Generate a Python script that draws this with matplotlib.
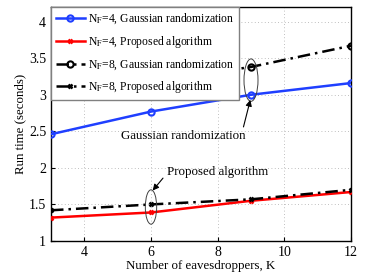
import matplotlib
matplotlib.use("Agg")
import matplotlib.pyplot as plt
from matplotlib.patches import Ellipse

plt.rcParams['font.family'] = ['Liberation Serif', 'DejaVu Serif']
plt.rcParams['mathtext.fontset'] = 'stix'

K = [3, 6, 9, 12]
gauss_nf4 = [2.46, 2.77, 3.00, 3.16]
prop_nf4 = [1.32, 1.39, 1.55, 1.67]
gauss_nf8 = [2.98, 3.18, 3.38, 3.67]
prop_nf8 = [1.42, 1.50, 1.57, 1.70]
labels = [r'N$_\mathrm{F}$=4, Gaussian randomization',
          r'N$_\mathrm{F}$=4, Proposed algorithm',
          r'N$_\mathrm{F}$=8, Gaussian randomization',
          r'N$_\mathrm{F}$=8, Proposed algorithm']
xticks = [4, 6, 8, 10, 12]
yticks = [1, 1.5, 2, 2.5, 3, 3.5, 4]

fig = plt.figure(figsize=(3.88, 2.72), dpi=100)
ax = fig.add_axes([51/388, 1 - 241/272, 300/388, 234/272])

fs = 9.3
dashdot = (0, (5, 2, 1, 2))
ax.plot(K, gauss_nf4, color='#1f3fff', lw=1.8, marker='o', ms=4.5, mfc='none', mew=1.5, label=labels[0], zorder=3)
ax.plot(K, prop_nf4, color='red', lw=1.8, marker='x', ms=3.5, mew=1.8, label=labels[1], zorder=3)
ax.plot(K, gauss_nf8, color='black', lw=1.8, ls=dashdot, marker='o', ms=4.5, mfc='none', mew=1.5, label=labels[2], zorder=3)
ax.plot(K, prop_nf8, color='black', lw=1.8, ls=dashdot, marker='x', ms=3.5, mew=1.8, label=labels[3], zorder=3)

ax.set_xlim(3, 12)
ax.set_ylim(1, 4.2)
ax.set_xticks(xticks)
ax.set_yticks(yticks)
ax.set_yticklabels(['1', '1.5', '2', '2.5', '3', '3.5', '4'])
ax.tick_params(labelsize=10, direction='in', length=3, width=0.8)
ax.grid(True, ls=(0, (1, 3)), color='#aaaaaa', lw=0.6)
for s in ax.spines.values():
    s.set_linewidth(1.0)
ax.set_xlabel('Number of eavesdroppers, K', fontsize=fs, labelpad=1)
ax.set_ylabel('Run time (seconds)', fontsize=fs, labelpad=2)

leg = ax.legend(loc='upper left', fontsize=8.4, frameon=True, fancybox=False,
                edgecolor='#808080', framealpha=1, borderaxespad=0,
                handlelength=2.5, labelspacing=0.65, borderpad=0.4, handletextpad=0.3)
leg.get_frame().set_linewidth(1.0)
leg.set_zorder(5)

ax.add_patch(Ellipse((9, 3.2), 0.42, 0.58, fill=False, ec='#404040', lw=0.7, zorder=4))
ax.add_patch(Ellipse((6, 1.465), 0.34, 0.47, fill=False, ec='#404040', lw=0.7, zorder=4))

ax.annotate('Gaussian randomization', xy=(8.98, 2.93), xytext=(6.96, 2.44),
            fontsize=fs, ha='center', va='center',
            arrowprops=dict(arrowstyle='-|>', color='black', lw=0.8, mutation_scale=9,
                            shrinkA=0, shrinkB=0, relpos=(0.98, 1.0)),
            zorder=4)
ax.annotate('', xy=(6.05, 1.69), xytext=(6.36, 1.86),
            arrowprops=dict(arrowstyle='-|>', color='black', lw=0.8, mutation_scale=9,
                            shrinkA=0, shrinkB=0), zorder=4)
ax.text(6.49, 1.95, 'Proposed algorithm', fontsize=fs, ha='left', va='center', zorder=4)

fig.savefig('out.png', dpi=100)
